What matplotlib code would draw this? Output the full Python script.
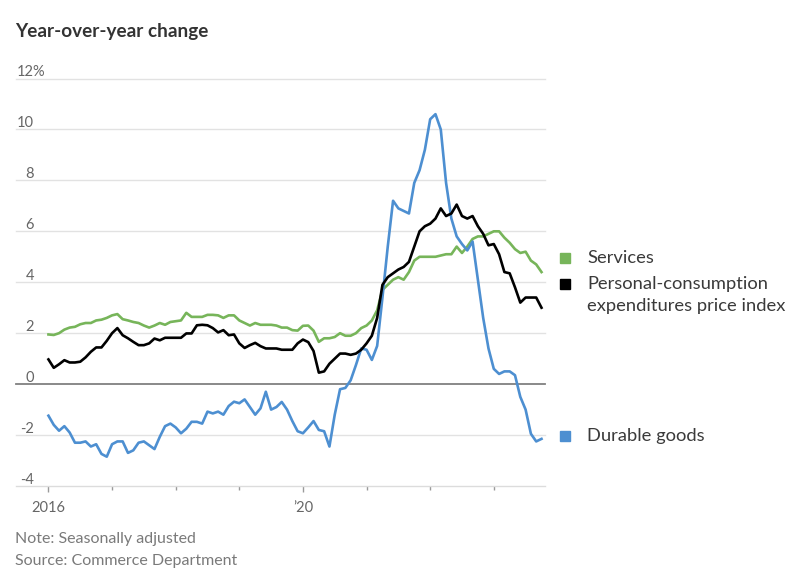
import matplotlib
matplotlib.use("Agg")
import matplotlib.pyplot as plt
import matplotlib.transforms as mtransforms
import numpy as np

plt.rcParams['font.family'] = ['Lato', 'DejaVu Sans']

# ---- data (monthly, Jan 2016 .. Oct 2023), year-over-year % change ----
start_year = 2016
pce = [
    0.97, 0.64, 0.78, 0.94, 0.85, 0.85, 0.88, 1.05, 1.27, 1.44, 1.44, 1.70,   # 2016
    2.00, 2.20, 1.92, 1.80, 1.66, 1.53, 1.53, 1.60, 1.79, 1.72, 1.82, 1.82,   # 2017
    1.82, 1.82, 1.99, 1.99, 2.31, 2.33, 2.31, 2.20, 2.03, 2.12, 1.92, 1.95,   # 2018
    1.60, 1.42, 1.53, 1.62, 1.49, 1.40, 1.40, 1.40, 1.35, 1.35, 1.35, 1.60,   # 2019
    1.75, 1.65, 1.30, 0.45, 0.50, 0.80, 1.00, 1.20, 1.20, 1.15, 1.20, 1.35,   # 2020
    1.60, 1.90, 2.60, 3.90, 4.20, 4.35, 4.50, 4.60, 4.80, 5.40, 6.00, 6.20,   # 2021
    6.30, 6.50, 6.90, 6.60, 6.70, 7.05, 6.60, 6.50, 6.60, 6.20, 5.90, 5.45,   # 2022
    5.50, 5.10, 4.40, 4.35, 3.80, 3.20, 3.40, 3.40, 3.40, 3.00,               # 2023
]
services = [
    1.95, 1.93, 2.00, 2.14, 2.22, 2.25, 2.35, 2.40, 2.40, 2.50, 2.53, 2.60,   # 2016
    2.70, 2.75, 2.55, 2.50, 2.44, 2.40, 2.30, 2.22, 2.30, 2.40, 2.33, 2.44,   # 2017
    2.47, 2.50, 2.80, 2.64, 2.64, 2.64, 2.72, 2.72, 2.70, 2.60, 2.70, 2.70,   # 2018
    2.50, 2.40, 2.30, 2.40, 2.33, 2.33, 2.33, 2.30, 2.22, 2.22, 2.12, 2.10,   # 2019
    2.29, 2.30, 2.10, 1.66, 1.80, 1.80, 1.85, 2.00, 1.90, 1.90, 2.00, 2.20,   # 2020
    2.30, 2.50, 2.90, 3.70, 3.90, 4.10, 4.20, 4.10, 4.40, 4.85, 5.00, 5.00,   # 2021
    5.00, 5.00, 5.05, 5.10, 5.10, 5.40, 5.15, 5.40, 5.70, 5.80, 5.80, 5.90,   # 2022
    6.00, 6.00, 5.75, 5.55, 5.30, 5.15, 5.20, 4.85, 4.70, 4.40,               # 2023
]
durable = [
    -1.24, -1.60, -1.83, -1.65, -1.90, -2.30, -2.30, -2.25, -2.45, -2.36, -2.74, -2.85,  # 2016
    -2.36, -2.25, -2.25, -2.70, -2.60, -2.30, -2.25, -2.40, -2.55, -2.07, -1.65, -1.55,  # 2017
    -1.70, -1.93, -1.75, -1.48, -1.48, -1.55, -1.08, -1.15, -1.08, -1.20, -0.86, -0.69,  # 2018
    -0.75, -0.60, -0.90, -1.20, -0.95, -0.30, -1.00, -0.90, -0.70, -1.00, -1.45, -1.85,  # 2019
    -1.93, -1.70, -1.45, -1.80, -1.85, -2.45, -1.20, -0.20, -0.15, 0.15, 0.75, 1.40,     # 2020
    1.35, 0.95, 1.50, 3.40, 5.40, 7.20, 6.90, 6.80, 6.70, 7.90, 8.40, 9.20,              # 2021
    10.40, 10.60, 10.00, 7.90, 6.50, 5.80, 5.50, 5.25, 5.60, 4.10, 2.60, 1.40,           # 2022
    0.60, 0.40, 0.50, 0.50, 0.35, -0.50, -1.00, -1.95, -2.25, -2.15,                     # 2023
]
series_names = ["Services", "Personal-consumption\nexpenditures price index", "Durable goods"]
y_ticks = [-4, -2, 0, 2, 4, 6, 8, 10, 12]
x_tick_years = [2016, 2017, 2018, 2019, 2020, 2021, 2022, 2023]
x_tick_labels = {2016: "2016", 2020: "\u201920"}
title = "Year-over-year change"
note = "Note: Seasonally adjusted"
source = "Source: Commerce Department"

GREEN = "#77b55a"
BLACK = "#000000"
BLUE = "#4d8fd1"

W, H = 792, 583
fig = plt.figure(figsize=(W / 100, H / 100), dpi=100)
ax_left, ax_right, ax_top, ax_bot = 16, 545, 78.5, 486
ax = fig.add_axes([ax_left / W, 1 - ax_bot / H, (ax_right - ax_left) / W, (ax_bot - ax_top) / H])

n = len(pce)
x = np.arange(n)
px_per_month = 5.31
ax.set_xlim(-(48.5 - ax_left) / px_per_month, n - 1 + (ax_right - 541.5) / px_per_month)
ax.set_ylim(-4, 12)

for v in y_ticks:
    if v == -4:
        continue
    if v == 0:
        ax.axhline(v, color="#808080", lw=1.3, zorder=2, clip_on=False)
    else:
        ax.axhline(v, color="#e2e2e2", lw=1.0, zorder=1, clip_on=False)

ax.plot(x, services, color=GREEN, lw=1.9, zorder=3, solid_joinstyle="round")
ax.plot(x, durable, color=BLUE, lw=1.9, zorder=4, solid_joinstyle="round")
ax.plot(x, pce, color=BLACK, lw=1.9, zorder=5, solid_joinstyle="round")

for s in ["top", "right", "left"]:
    ax.spines[s].set_visible(False)
ax.spines["bottom"].set_color("#dcdcdc")
ax.spines["bottom"].set_linewidth(1.0)
ax.set_yticks([])

major = [(y - start_year) * 12 for y in x_tick_years if y in x_tick_labels]
minor = [(y - start_year) * 12 for y in x_tick_years if y not in x_tick_labels]
ax.set_xticks(major, labels=[x_tick_labels[y] for y in x_tick_years if y in x_tick_labels])
ax.set_xticks(minor, minor=True)
ax.tick_params(axis="x", which="major", direction="out", length=4, width=1, color="#9a9a9a",
               pad=7, labelsize=10.5, labelcolor="#666666")
ax.tick_params(axis="x", which="minor", direction="out", length=3, width=1, color="#9a9a9a")

# y labels (right aligned, sitting on the grid lines)
trans = mtransforms.blended_transform_factory(fig.transFigure, ax.transData)
for v in y_ticks:
    lab = str(v) if v >= 0 else "-" + str(-v)
    if v == 12:
        ax.text(16.5 / W, v + 0.09, lab + "%", transform=trans, ha="left", va="baseline",
                fontsize=10.5, color="#666666", clip_on=False)
    else:
        ax.text(34 / W, v + 0.09, lab, transform=trans, ha="right", va="baseline",
                fontsize=10.5, color="#666666", clip_on=False)

# title and notes
fig.text(15 / W, 1 - 31 / H, title, ha="left", va="center", fontsize=13.6,
         fontweight="bold", color="#333333")
fig.text(15 / W, 1 - 539 / H, note, ha="left", va="center", fontsize=11.5, color="#7a7a7a")
fig.text(15 / W, 1 - 561 / H, source, ha="left", va="center", fontsize=11.5, color="#7a7a7a")

# legend labels on the right
legend_items = [
    (GREEN, series_names[0], 258),
    (BLACK, series_names[1], 284),
    (BLUE, series_names[2], 436),
]
for col, name, ypx in legend_items:
    fig.patches.append(plt.Rectangle((560 / W, 1 - (ypx + 5) / H), 10 / W, 10 / H,
                                     transform=fig.transFigure, color=col, figure=fig))
    lines = name.split("\n")
    for i, line in enumerate(lines):
        fig.text(587 / W, 1 - (ypx + 22 * i) / H, line, ha="left", va="center",
                 fontsize=13.2, color="#3a3a3a")

fig.savefig("out.png", dpi=100)
